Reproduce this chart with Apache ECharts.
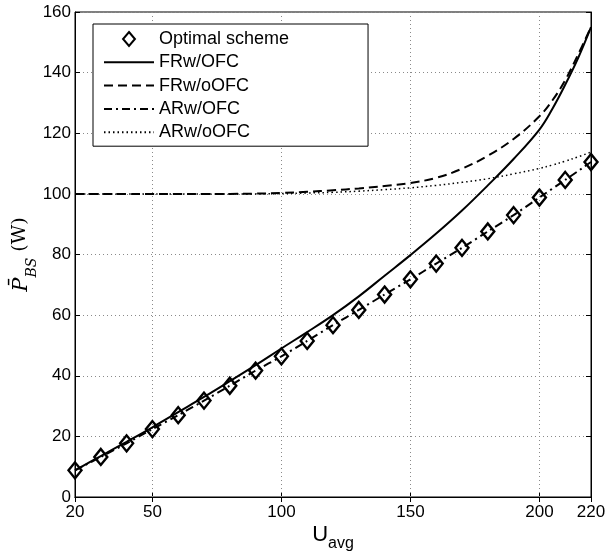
<!DOCTYPE html>
<html>
<head>
<meta charset="utf-8">
<script src="https://cdn.jsdelivr.net/npm/echarts@6/dist/echarts.min.js"></script>
<style>
html,body{margin:0;padding:0;background:#fff;}
#chart{width:613px;height:553px;}
</style>
</head>
<body>
<div id="chart"></div>
<script>
// ---- data ----
const uCoarse = [20,30,40,50,60,70,80,90,100,110,120,130,140,150,160,170,180,190,200,210,220];
const uFine   = [20,30,40,50,60,70,80,90,100,110,120,130,140,150,160,170,180,190,200,205,210,215,220];

const optimalScheme = [8.8,13.2,17.7,22.4,27.0,31.8,36.7,41.7,46.4,51.5,56.7,61.7,66.8,71.8,77.0,82.2,87.6,93.0,98.8,104.6,110.5];
const arWithOFC     = [8.8,13.2,17.7,22.4,27.0,31.8,36.7,41.7,46.4,51.5,56.7,61.7,66.8,71.8,77.0,82.2,87.6,93.0,98.8,104.6,110.5];
const frWithOFC     = [8.8,13.5,18.2,23.0,28.0,33.0,38.2,43.5,49.0,54.4,60.0,66.2,73.0,79.8,86.9,94.5,102.8,111.5,121.2,128.0,136.0,144.8,155.0];
const frWithoutOFC  = [100,100,100,100,100,100,100,100.1,100.3,100.7,101.2,101.8,102.6,103.6,105.3,108.3,112.6,118.1,125.6,130.8,137.5,146.0,155.0];
const arWithoutOFC  = [100,100,100,100,100,100,100,100,100.1,100.3,100.5,100.9,101.4,102.0,102.8,103.8,105.0,106.6,108.4,109.5,110.8,112.2,113.8];

const xTickValues = [20,50,100,150,200,220];
const xGridValues = [50,100,150,200];
const yMin = 0, yMax = 160, yStep = 20;

function pairs(xs, ys){ return xs.map((x,i)=>[x, ys[i]]); }

const font = '"Liberation Sans", Arial, Helvetica, sans-serif';
const gridLine = {color:'#8a8a8a', width:1, type:[1,3]};
const hidden = {opacity:0};

const chart = echarts.init(document.getElementById('chart'), null, {renderer:'canvas'});
chart.setOption({
  animation:false,
  backgroundColor:'#fff',
  grid:{left:75, right:22, top:12, bottom:56, show:true, borderColor:'#000', borderWidth:1,
        backgroundColor:'transparent', containLabel:false, outerBoundsMode:'none'},
  legend:{
    left:93, top:24, orient:'vertical',
    backgroundColor:'#fff', borderColor:'#000', borderWidth:1,
    padding:[5,79,4,10],
    itemWidth:50, itemHeight:14, itemGap:3.3,
    symbolKeepAspect:true,
    textStyle:{fontFamily:font, fontSize:18, color:'#000', lineHeight:20},
    data:[
      {name:'Optimal scheme', icon:'path://M0,-10L8.5,0L0,10L-8.5,0Z'},
      {name:'FRw/OFC', itemStyle:hidden},
      {name:'FRw/oOFC', itemStyle:hidden},
      {name:'ARw/OFC', itemStyle:hidden},
      {name:'ARw/oOFC', itemStyle:hidden}
    ]
  },
  xAxis:[{
    type:'value', min:20, max:220, position:'bottom',
    name:'{u|U}{s|avg}', nameLocation:'middle', nameGap:27, nameMoveOverlap:false,
    nameTextStyle:{rich:{
      u:{fontFamily:font, fontSize:22, color:'#000', lineHeight:26, verticalAlign:'top'},
      s:{fontFamily:font, fontSize:16, color:'#000', lineHeight:16, padding:[14,0,0,0]}
    }},
    axisLine:{show:true, lineStyle:{color:'#000', width:1}},
    axisTick:{show:true, inside:true, length:5, customValues:xTickValues, lineStyle:{color:'#000'}},
    axisLabel:{show:true, customValues:xTickValues, fontFamily:font, fontSize:17, color:'#000', margin:7},
    splitLine:{show:false}
  },{
    type:'value', min:20, max:220, position:'top',
    axisLine:{show:true, lineStyle:{color:'#000', width:1}},
    axisTick:{show:true, inside:true, length:5, customValues:xTickValues, lineStyle:{color:'#000'}},
    axisLabel:{show:false},
    splitLine:{show:false}
  }],
  yAxis:[{
    type:'value', min:yMin, max:yMax, interval:yStep, position:'left',
    name:'{p|P\u0304}{b|BS}{w| (W)}', nameLocation:'middle', nameGap:34, nameRotate:90, nameMoveOverlap:false,
    nameTextStyle:{rich:{
      p:{fontFamily:'"DejaVu Serif", serif', fontStyle:'italic', fontSize:21, color:'#000', lineHeight:30, verticalAlign:'top'},
      b:{fontFamily:'"DejaVu Serif", serif', fontStyle:'italic', fontSize:14, color:'#000', lineHeight:14, padding:[12,0,0,0]},
      w:{fontFamily:'"DejaVu Serif", serif', fontSize:19, color:'#000', lineHeight:30, verticalAlign:'top'}
    }},
    axisLine:{show:true, lineStyle:{color:'#000', width:1}},
    axisTick:{show:true, inside:true, length:5, lineStyle:{color:'#000'}},
    axisLabel:{show:true, fontFamily:font, fontSize:17, color:'#000', margin:4},
    splitLine:{show:true, lineStyle:gridLine}
  },{
    type:'value', min:yMin, max:yMax, interval:yStep, position:'right',
    axisLine:{show:true, lineStyle:{color:'#000', width:1}},
    axisTick:{show:true, inside:true, length:5, lineStyle:{color:'#000'}},
    axisLabel:{show:false},
    splitLine:{show:false}
  }],
  series:[
    {
      name:'ARw/oOFC', type:'line', symbol:'none', z:2,
      data:pairs(uFine, arWithoutOFC), smooth:0.4,
      lineStyle:{color:'#000', width:1.5, type:[1.5,3]},
      itemStyle:{color:'#000'},
      markLine:{
        silent:true, symbol:'none', z:1, label:{show:false},
        lineStyle:gridLine,
        data:xGridValues.map(v=>({xAxis:v}))
      }
    },
    {
      name:'FRw/oOFC', type:'line', symbol:'none', z:3,
      data:pairs(uFine, frWithoutOFC), smooth:0.4,
      lineStyle:{color:'#000', width:2, type:[9,5]},
      itemStyle:{color:'#000'}
    },
    {
      name:'FRw/OFC', type:'line', symbol:'none', z:3,
      data:pairs(uFine, frWithOFC), smooth:0.4,
      lineStyle:{color:'#000', width:2, type:'solid'},
      itemStyle:{color:'#000'}
    },
    {
      name:'ARw/OFC', type:'line', symbol:'none', z:3,
      data:pairs(uCoarse, arWithOFC), smooth:0.3,
      lineStyle:{color:'#000', width:2, type:[8,4,2,4]},
      itemStyle:{color:'#000'}
    },
    {
      name:'Optimal scheme', type:'scatter', symbol:'diamond', symbolSize:[13,16], z:5,
      data:pairs(uCoarse, optimalScheme),
      itemStyle:{color:'rgba(0,0,0,0)', borderColor:'#000', borderWidth:2.4, opacity:1}
    }
  ]
});
</script>
</body>
</html>
